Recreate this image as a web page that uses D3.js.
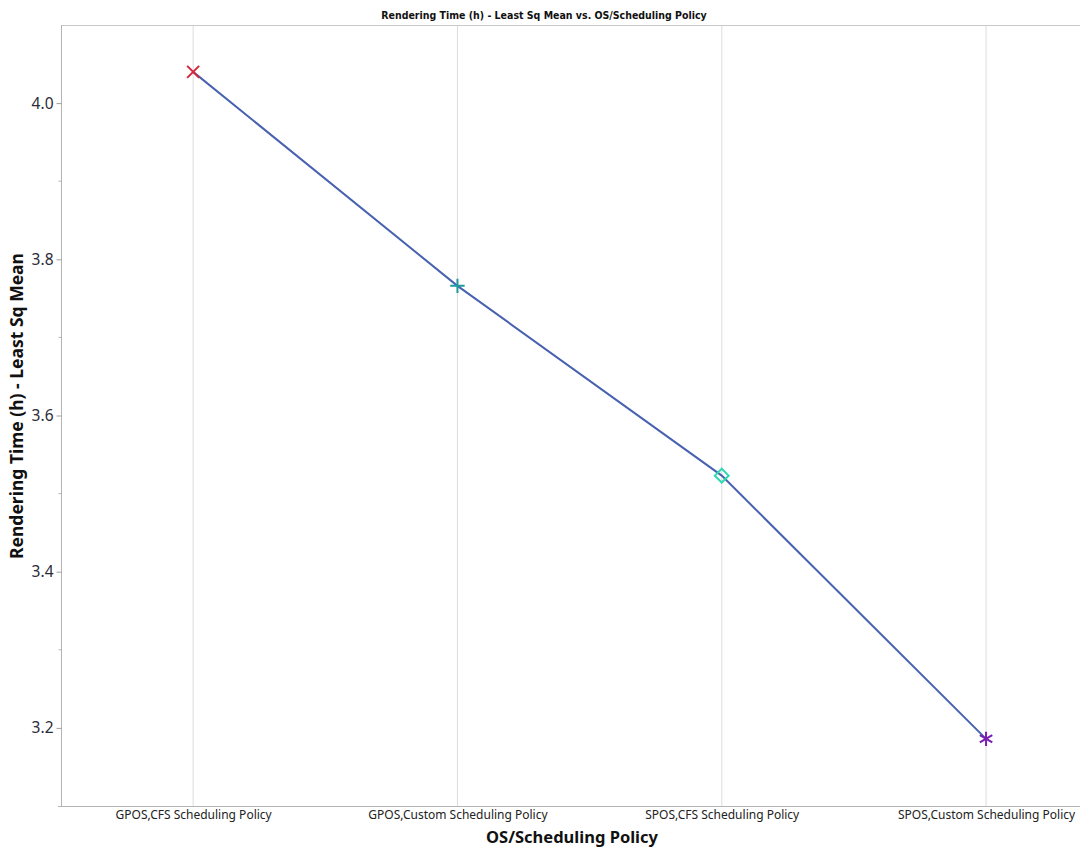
<!DOCTYPE html>
<html>
<head>
<meta charset="utf-8">
<script src="https://cdn.jsdelivr.net/npm/d3@7"></script>
<style>
  html, body { margin: 0; padding: 0; background: #fff; }
  svg { display: block; font-family: "Noto Sans", "Open Sans", sans-serif; }
</style>
</head>
<body>
<svg id="chart" width="1080" height="852"></svg>
<script>
// Least squares means of rendering time per OS / scheduling policy
const categories = [
  "GPOS,CFS Scheduling Policy",
  "GPOS,Custom Scheduling Policy",
  "SPOS,CFS Scheduling Policy",
  "SPOS,Custom Scheduling Policy"
];
const lsMeans = [4.040, 3.766, 3.523, 3.186];
const markerShapes = ["x", "plus", "diamond", "asterisk"];
const markerColors = ["#d8253a", "#1e9a9e", "#2ed9b2", "#7a1fb0"];
const yTicks = [3.2, 3.4, 3.6, 3.8, 4.0];
const yMinorTicks = [3.3, 3.5, 3.7, 3.9];

const svg = d3.select("#chart");
const plotLeft = 61, plotTop = 25, plotBottom = 806;
const step = 264.3;

const x = d3.scalePoint()
  .domain(categories)
  .range([plotLeft + step / 2, plotLeft + step / 2 + step * (categories.length - 1)]);
const y = d3.scaleLinear().domain([3.1, 4.1]).range([plotBottom, plotTop]);

// vertical grid lines at each category
svg.append("g")
  .selectAll("line")
  .data(categories)
  .join("line")
  .attr("x1", d => x(d)).attr("x2", d => x(d))
  .attr("y1", plotTop).attr("y2", plotBottom)
  .attr("stroke", "#dcdcdc").attr("stroke-width", 1);

// frame line along the top
svg.append("line")
  .attr("x1", plotLeft).attr("x2", 1080).attr("y1", plotTop + 0.5).attr("y2", plotTop + 0.5)
  .attr("stroke", "#c8c8c8");

// y axis
const yAxis = svg.append("g")
  .attr("transform", `translate(${plotLeft + 0.5},0)`)
  .call(d3.axisLeft(y).tickValues(yTicks).tickFormat(d3.format(".1f")).tickSize(5).tickPadding(3));
yAxis.select(".domain").attr("stroke", "#b4b4b4").attr("d", `M0,${plotTop}V${plotBottom}`);
yAxis.selectAll(".tick line").attr("stroke", "#a0a0a0");
yAxis.selectAll(".tick text")
  .attr("font-size", 15.5).attr("fill", "#2b2b3a")
  .attr("font-family", "'Noto Sans', sans-serif");
svg.append("g")
  .attr("transform", `translate(${plotLeft + 0.5},0)`)
  .selectAll("line")
  .data(yMinorTicks)
  .join("line")
  .attr("x1", -3).attr("x2", 0)
  .attr("y1", d => y(d)).attr("y2", d => y(d))
  .attr("stroke", "#b4b4b4");

// x axis
const xAxis = svg.append("g")
  .attr("transform", `translate(0,${plotBottom + 0.5})`)
  .call(d3.axisBottom(x).tickSize(0).tickPadding(4));
xAxis.select(".domain").attr("stroke", "#b4b4b4").attr("d", `M${plotLeft - 3},0H1080`);
xAxis.selectAll(".tick text")
  .attr("font-size", 12).attr("fill", "#222")
  .attr("font-family", "'Noto Sans', sans-serif");

// connecting line
const pts = categories.map((c, i) => [x(c), y(lsMeans[i])]);
svg.append("path")
  .attr("d", d3.line()(pts))
  .attr("fill", "none")
  .attr("stroke", "#4862b0")
  .attr("stroke-width", 2);

// markers
function markerPath(shape, r) {
  const p = d3.path();
  if (shape === "x") {
    p.moveTo(-r, -r); p.lineTo(r, r); p.moveTo(r, -r); p.lineTo(-r, r);
  } else if (shape === "plus") {
    p.moveTo(-r * 1.2, 0); p.lineTo(r * 1.2, 0); p.moveTo(0, -r * 1.2); p.lineTo(0, r * 1.2);
  } else if (shape === "diamond") {
    const d = r * 1.15;
    p.moveTo(0, -d); p.lineTo(d, 0); p.lineTo(0, d); p.lineTo(-d, 0); p.closePath();
  } else {
    const a = r * 1.2;
    p.moveTo(0, -a); p.lineTo(0, a);
    const dx = a * Math.cos(Math.PI / 6), dy = a * Math.sin(Math.PI / 6);
    p.moveTo(-dx, -dy); p.lineTo(dx, dy); p.moveTo(dx, -dy); p.lineTo(-dx, dy);
  }
  return p.toString();
}
svg.append("g")
  .selectAll("path")
  .data(categories)
  .join("path")
  .attr("transform", (c, i) => `translate(${x(c)},${y(lsMeans[i])})`)
  .attr("d", (c, i) => markerPath(markerShapes[i], 6))
  .attr("fill", "none")
  .attr("stroke", (c, i) => markerColors[i])
  .attr("stroke-width", 2);

// titles
svg.append("text")
  .attr("x", 544).attr("y", 19)
  .attr("text-anchor", "middle")
  .attr("font-family", "'DejaVu Sans Condensed', 'DejaVu Sans', sans-serif")
  .attr("font-stretch", "condensed")
  .attr("font-weight", "bold").attr("font-size", 10.5).attr("fill", "#111")
  .text("Rendering Time (h) - Least Sq Mean vs. OS/Scheduling Policy");

svg.append("text")
  .attr("x", 572).attr("y", 843)
  .attr("text-anchor", "middle")
  .attr("font-weight", "bold").attr("font-size", 16.5).attr("fill", "#111")
  .text("OS/Scheduling Policy");

svg.append("text")
  .attr("transform", "translate(23,406) rotate(-90)")
  .attr("text-anchor", "middle")
  .attr("font-weight", "bold").attr("font-size", 17.5).attr("fill", "#111")
  .text("Rendering Time (h) - Least Sq Mean");
</script>
</body>
</html>
